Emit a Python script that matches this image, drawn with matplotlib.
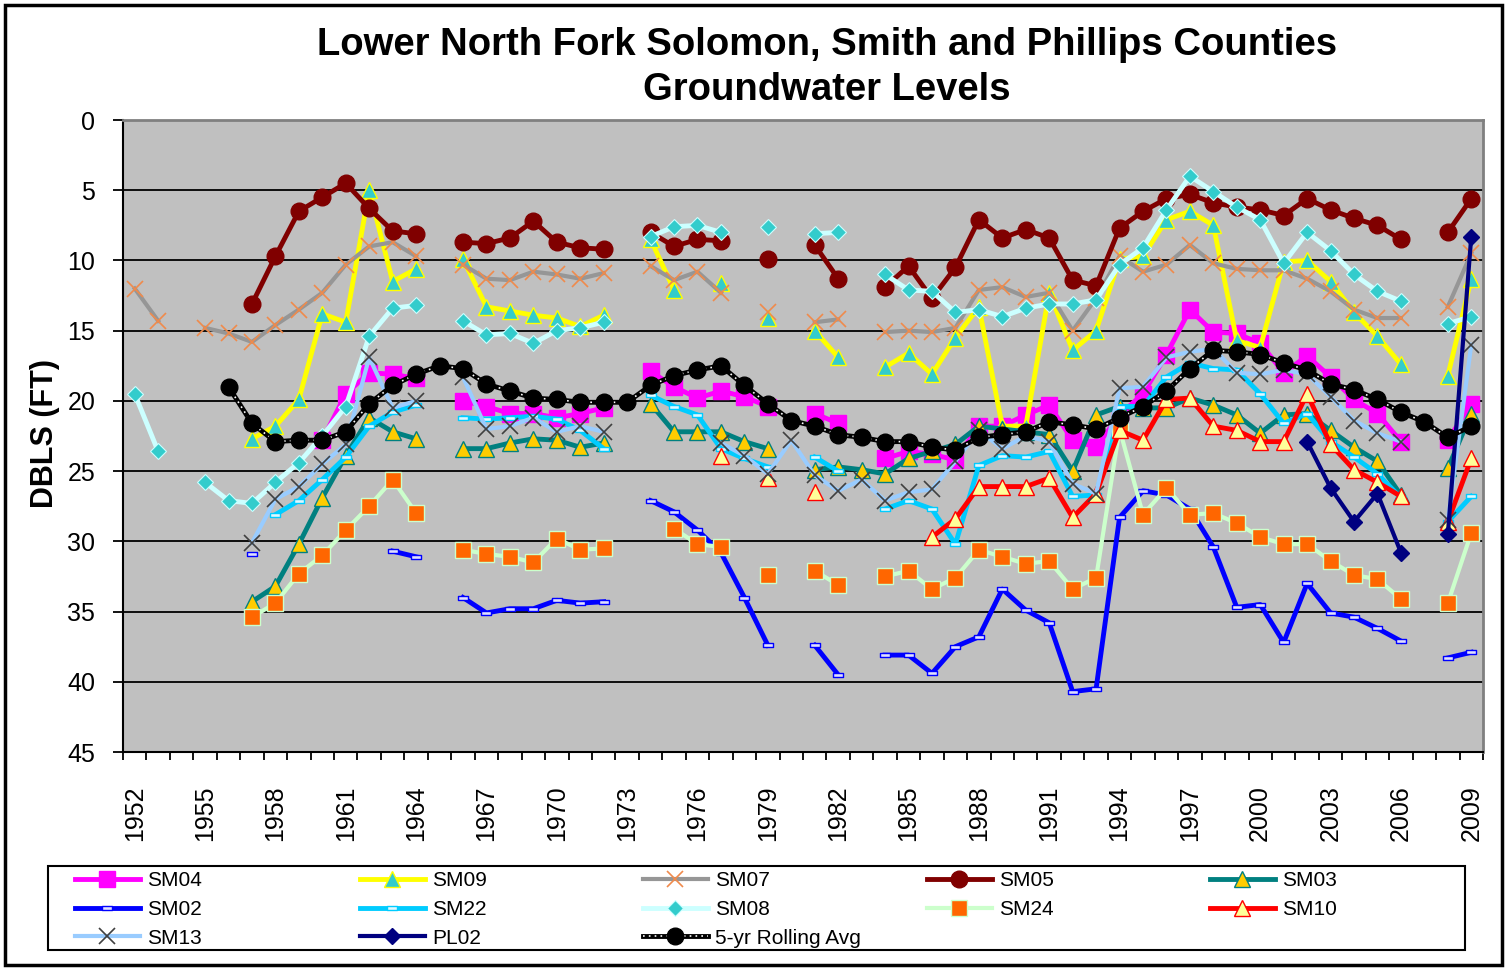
import numpy as np
import matplotlib
matplotlib.use('agg')
import matplotlib.pyplot as plt
from matplotlib.path import Path
from matplotlib.lines import Line2D
from matplotlib.patches import Rectangle
from matplotlib.legend_handler import HandlerTuple

N = np.nan
years = list(range(1952, 2010))

# depth below land surface (ft), one value per year 1952..2009, N = no reading
sm04 = [N, N, N, N, N, N, N, N, 22.8, 19.5,
        18.0, 18.1, 18.4, N, 20.0, 20.4, 20.9, 20.9, 21.2, 20.9,
        20.5, N, 17.9, 19.0, 19.8, 19.3, 19.7, 20.4, N, 20.9,
        21.6, N, 24.1, 23.6, 23.8, 24.2, 21.8, 21.8, 21.0, 20.3,
        22.8, 23.3, 21.0, 19.5, 16.7, 13.5, 15.1, 15.2, 15.9, 18.0,
        16.8, 18.3, 19.9, 20.9, 22.9, N, 22.8, 20.2]
sm09 = [N, N, N, N, N, 22.7, 21.8, 19.9, 13.8, 14.4,
        5.0, 11.5, 10.6, N, 9.9, 13.3, 13.6, 13.9, 14.1, 14.7,
        13.9, N, 8.5, 12.1, N, 11.6, N, 14.1, N, 15.0,
        16.9, N, 17.6, 16.6, 18.1, 15.5, 13.3, 21.8, 21.8, 12.3,
        16.4, 15.0, 9.9, 9.7, 7.1, 6.5, 7.5, 15.7, 16.2, 10.1,
        10.0, 11.5, 13.7, 15.4, 17.4, N, 18.2, 11.3]
sm07 = [12.0, 14.3, N, 14.8, 15.2, 15.8, 14.6, 13.5, 12.3, 10.3,
        9.0, 8.7, 9.7, N, 10.3, 11.3, 11.4, 10.8, 11.0, 11.3,
        10.9, N, 10.4, 11.4, 10.8, 12.3, N, 13.7, N, 14.4,
        14.2, N, 15.1, 15.0, 15.1, 14.8, 12.1, 11.9, 12.6, 12.3,
        15.0, 12.7, 9.7, 10.8, 10.3, 8.9, 10.2, 10.6, 10.7, 10.7,
        11.3, 12.2, 13.5, 14.1, 14.1, N, 13.3, 9.5]
sm05 = [N, N, N, N, N, 13.1, 9.7, 6.5, 5.5, 4.5,
        6.3, 7.9, 8.1, N, 8.7, 8.8, 8.4, 7.2, 8.7, 9.1,
        9.2, N, 8.0, 9.0, 8.5, 8.6, N, 9.9, N, 8.9,
        11.3, N, 11.9, 10.4, 12.7, 10.5, 7.1, 8.4, 7.8, 8.4,
        11.4, 11.8, 7.7, 6.5, 5.6, 5.3, 5.9, 6.2, 6.4, 6.8,
        5.6, 6.4, 7.0, 7.5, 8.5, N, 8.0, 5.6]
sm03 = [N, N, N, N, N, 34.3, 33.2, 30.2, 26.9, 23.9,
        21.2, 22.2, 22.7, N, 23.4, 23.4, 23.0, 22.7, 22.8, 23.3,
        23.0, N, 20.2, 22.2, 22.2, 22.2, 22.9, 23.4, N, 24.9,
        24.7, 24.9, 25.2, 24.1, 23.6, 23.1, 21.8, 22.0, 22.2, 22.4,
        25.0, 21.0, 20.4, 20.5, 20.5, 19.8, 20.3, 21.0, 22.3, 21.0,
        20.9, 22.1, 23.3, 24.3, 26.7, N, 24.8, 20.9]
sm02 = [N, N, N, N, N, 30.9, N, N, N, N,
        N, 30.7, 31.1, N, 34.0, 35.1, 34.8, 34.8, 34.2, 34.4,
        34.3, N, 27.1, 27.9, 29.2, 30.8, 34.0, 37.4, N, 37.4,
        39.5, N, 38.1, 38.1, 39.4, 37.5, 36.8, 33.4, 34.9, 35.8,
        40.7, 40.5, 28.3, 26.4, 26.7, 27.7, 30.4, 34.7, 34.5, 37.2,
        33.0, 35.1, 35.4, 36.2, 37.1, N, 38.3, 37.9]
sm22 = [N, N, N, N, N, N, 28.1, 27.1, 25.6, 24.0,
        21.8, 20.8, 20.3, N, 21.2, 21.3, 21.2, 21.1, 21.3, 22.1,
        23.4, N, 19.6, 20.4, 21.0, 23.4, 24.1, 24.7, N, 24.0,
        25.0, N, 27.7, 27.1, 27.7, 30.2, 24.6, 23.9, 24.0, 23.6,
        26.8, 26.7, 20.4, 20.4, 18.3, 17.3, 17.7, 17.8, 19.5, 21.6,
        20.9, 22.9, 24.0, 25.2, 26.9, N, 28.6, 26.8]
sm08 = [19.5, 23.6, N, 25.8, 27.1, 27.3, 25.8, 24.4, 22.5, 20.4,
        15.4, 13.4, 13.2, N, 14.3, 15.3, 15.2, 15.9, 15.0, 14.8,
        14.4, N, 8.3, 7.6, 7.5, 8.0, N, 7.6, N, 8.1,
        8.0, N, 11.0, 12.1, 12.2, 13.7, 13.5, 14.0, 13.4, 13.1,
        13.1, 12.8, 10.3, 9.1, 6.4, 4.0, 5.1, 6.2, 7.1, 10.2,
        8.0, 9.3, 11.0, 12.2, 12.9, N, 14.5, 14.0]
sm24 = [N, N, N, N, N, 35.4, 34.4, 32.3, 31.0, 29.2,
        27.5, 25.6, 28.0, N, 30.6, 30.9, 31.1, 31.5, 29.8, 30.6,
        30.5, N, N, 29.1, 30.2, 30.4, N, 32.4, N, 32.1,
        33.1, N, 32.5, 32.1, 33.4, 32.6, 30.6, 31.1, 31.6, 31.4,
        33.4, 32.6, 22.0, 28.1, 26.2, 28.1, 28.0, 28.7, 29.7, 30.2,
        30.2, 31.4, 32.4, 32.7, 34.1, N, 34.4, 29.4]
sm10 = [N, N, N, N, N, N, N, N, N, N,
        N, N, N, N, N, N, N, N, N, N,
        N, N, N, N, N, 23.9, N, 25.5, N, 26.5,
        N, N, N, N, 29.7, 28.4, 26.1, 26.1, 26.1, 25.5,
        28.3, 26.6, 22.1, 22.8, 19.9, 19.8, 21.8, 22.1, 22.9, 22.9,
        19.5, 23.1, 24.9, 25.8, 26.8, N, 28.6, 24.1]
sm13 = [N, N, N, N, N, 30.1, 27.0, 26.1, 24.5, 23.1,
        16.9, 20.5, 20.0, N, 18.3, 22.0, 21.8, 21.2, 22.2, 21.8,
        22.2, N, N, N, N, 23.0, 23.9, 25.2, 22.8, 25.3,
        26.4, 25.6, 27.1, 26.5, 26.3, 24.3, 22.1, 23.4, 22.5, 22.9,
        25.9, 26.6, 19.1, 19.0, 16.9, 16.5, 16.3, 18.0, 18.1, 17.8,
        18.1, 19.7, 21.4, 22.3, 22.9, N, 28.5, 16.0]
pl02 = [N] * 50 + [22.9, 26.2, 28.6, 26.6, 30.8, N, 29.5, 8.3]
rolling = [N, N, N, N, 19.0, 21.6, 22.9, 22.8, 22.8, 22.2,
           20.2, 18.9, 18.1, 17.5, 17.7, 18.8, 19.3, 19.8, 19.9, 20.1,
           20.1, 20.1, 18.9, 18.2, 17.8, 17.5, 18.9, 20.2, 21.4, 21.8,
           22.4, 22.6, 22.9, 22.9, 23.3, 23.5, 22.6, 22.4, 22.2, 21.5,
           21.7, 22.0, 21.2, 20.4, 19.3, 17.7, 16.4, 16.5, 16.7, 17.3,
           17.8, 18.8, 19.2, 19.9, 20.8, 21.5, 22.6, 21.8]

plt.rcParams['font.family'] = ['Liberation Sans', 'DejaVu Sans']

W, H = 1507, 969
fig = plt.figure(figsize=(W / 100, H / 100), dpi=100)
ax = fig.add_axes([123 / W, 1 - 752 / H, 1360 / W, 632 / H])
ax.set_facecolor('#c0c0c0')

dash = Path([(-1, -0.45), (1, -0.45), (1, 0.45), (-1, 0.45), (-1, -0.45)],
            [Path.MOVETO, Path.LINETO, Path.LINETO, Path.LINETO, Path.CLOSEPOLY])

series = [
    ('SM04', sm04, dict(color='#ff00ff', lw=3.5, marker='s', ms=11, mfc='#ff00ff', mec='#ff00ff')),
    ('SM09', sm09, dict(color='#ffff00', lw=3.5, marker='^', ms=11, mfc='#33cccc', mec='#ffff00', mew=1)),
    ('SM07', sm07, dict(color='#969696', lw=3, marker='x', ms=12, mfc='none', mec='#f08a4b', mew=1.2)),
    ('SM05', sm05, dict(color='#800000', lw=3.5, marker='o', ms=12, mfc='#800000', mec='#800000')),
    ('SM03', sm03, dict(color='#008080', lw=3.5, marker='^', ms=11, mfc='#ffcc00', mec='#008080', mew=1)),
    ('SM02', sm02, dict(color='#0000ff', lw=3.5, marker=dash, ms=7, mfc='#e0e0ff', mec='#0000ff', mew=1)),
    ('SM22', sm22, dict(color='#00ccff', lw=3.5, marker=dash, ms=7, mfc='#e0f8ff', mec='#00ccff', mew=1)),
    ('SM08', sm08, dict(color='#ccffff', lw=3.5, marker='D', ms=8, mfc='#33cccc', mec='#ccffff', mew=0.8)),
    ('SM24', sm24, dict(color='#ccffcc', lw=3, marker='s', ms=11, mfc='#ff6600', mec='#ccffcc', mew=1)),
    ('SM10', sm10, dict(color='#ff0000', lw=3.5, marker='^', ms=11, mfc='#ffff99', mec='#ff0000', mew=1)),
    ('SM13', sm13, dict(color='#99ccff', lw=3, marker='x', ms=12, mfc='none', mec='#404040', mew=1.2)),
    ('PL02', pl02, dict(color='#000080', lw=3, marker='D', ms=8, mfc='#000080', mec='#000080')),
]

handles = {}
for name, vals, kw in series:
    ln, = ax.plot(years, vals, label=name, **kw)
    handles[name] = ln

# 5-yr rolling average: black line with white dots, black circles on top
y_roll = np.array(rolling)
ax.plot(years, y_roll, color='black', lw=3.5, zorder=5)
ax.plot(years, y_roll, color='white', lw=1.2, ls=(0, (1, 2.5)), zorder=5.1)
ax.plot(years, y_roll, ls='none', marker='o', ms=12, mfc='black', mec='black', zorder=5.2)
h_roll = (Line2D([], [], color='black', lw=3.5),
          Line2D([], [], color='white', lw=1.2, ls=(0, (1, 2.5))),
          Line2D([], [], ls='none', marker='o', ms=12, mfc='black', mec='black'))

ax.set_ylim(45, 0)
ax.set_xlim(1951.5, 2009.5)
ax.set_yticks(range(0, 46, 5))
ax.set_xticks(years[::3])
ax.set_xticklabels([str(y) for y in years[::3]], rotation=90)
ax.set_xticks(np.arange(1951.5, 2010, 1), minor=True)
ax.tick_params(axis='y', length=7, width=1.3, labelsize=18, pad=13, color='black')
ax.tick_params(axis='x', which='major', length=0, labelsize=18, pad=24)
ax.tick_params(axis='x', which='minor', length=6, width=1.3)
ax.yaxis.grid(True, color='black', lw=1.3)
ax.set_axisbelow(True)
for s in ('left', 'bottom'):
    ax.spines[s].set_color('black')
    ax.spines[s].set_linewidth(1.5)
for s in ('top', 'right'):
    ax.spines[s].set_color('#808080')
    ax.spines[s].set_linewidth(2)

fig.text(827 / W, 1 - 45 / H, 'Lower North Fork Solomon, Smith and Phillips Counties',
         ha='center', va='center', fontsize=27.5, fontweight='bold')
fig.text(827 / W, 1 - 90 / H, 'Groundwater Levels',
         ha='center', va='center', fontsize=27.5, fontweight='bold')
fig.text(45 / W, 1 - 433 / H, 'DBLS (FT)', rotation=90, ha='center', va='center',
         fontsize=22, fontweight='bold')

# legend: five equal-width columns inside one box
cols = [['SM04', 'SM02', 'SM13'], ['SM09', 'SM22', 'PL02'],
        ['SM07', 'SM08', '5-yr Rolling Avg'], ['SM05', 'SM24'], ['SM03', 'SM10']]
col_x = [75, 360, 643, 927, 1210]
for names, cx in zip(cols, col_x):
    hs = [h_roll if n == '5-yr Rolling Avg' else handles[n] for n in names]
    fig.legend(hs, names, loc='upper left', bbox_to_anchor=(cx / W, 1 - 871 / H),
               frameon=False, fontsize=15, borderpad=0, borderaxespad=0,
               handlelength=3.1, handletextpad=0.35, labelspacing=0.47,
               numpoints=1, handler_map={tuple: HandlerTuple(ndivide=1, pad=0)})
fig.patches.append(Rectangle((48 / W, 1 - 950 / H), 1417 / W, 84 / H, transform=fig.transFigure,
                             fill=False, ec='black', lw=1.5))
fig.patches.append(Rectangle((5 / W, 1 - 965 / H), 1497 / W, 960 / H, transform=fig.transFigure,
                             fill=False, ec='black', lw=2.5))

fig.savefig('out.png', dpi=100, facecolor='white')
